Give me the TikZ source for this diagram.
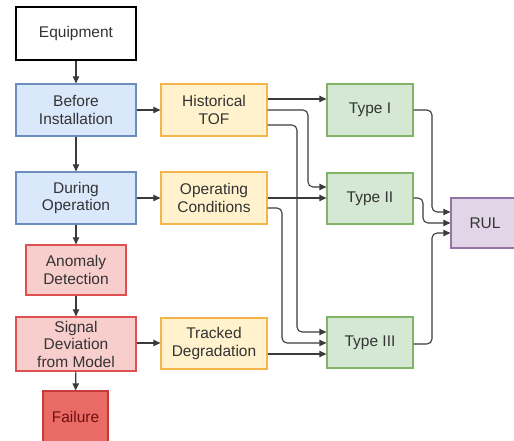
\documentclass[tikz,border=0pt]{standalone}
\usepackage{fontspec}
\setmainfont{Liberation Sans}
\usetikzlibrary{arrows.meta}
\definecolor{bfill}{HTML}{DAE8FC}\definecolor{bline}{HTML}{6C8EBF}
\definecolor{ofill}{HTML}{FFF2CC}\definecolor{oline}{HTML}{F5B54A}
\definecolor{gfill}{HTML}{D5E8D4}\definecolor{gline}{HTML}{82B366}
\definecolor{rfill}{HTML}{F8CECC}\definecolor{rline}{HTML}{E05050}
\definecolor{ffill}{HTML}{EA6B66}\definecolor{fline}{HTML}{C83A3A}
\definecolor{pfill}{HTML}{E1D5E7}\definecolor{pline}{HTML}{9673A6}
\definecolor{txt}{HTML}{333333}
\definecolor{wire}{HTML}{3A3A3A}
\tikzset{
  box/.style={draw, line width=1.3pt, inner sep=0pt, align=center, text=txt,
    font=\fontsize{15.5}{17.5}\selectfont},
  wbox/.style={box, draw=black, fill=white},
  bbox/.style={box, draw=bline, fill=bfill, minimum width=120, minimum height=52},
  obox/.style={box, draw=oline, fill=ofill, minimum width=106, minimum height=52},
  gbox/.style={box, draw=gline, fill=gfill, minimum width=86, minimum height=51},
  rbox/.style={box, draw=rline, fill=rfill},
  conn/.style={draw=wire, line width=1.1pt, rounded corners=5pt, -{Triangle[length=7pt,width=6.5pt]}},
}
\begin{document}
\begin{tikzpicture}[x=1pt,y=-1pt]
\useasboundingbox (0,0) rectangle (514,441);
\begin{scope}
\clip (0,0) rectangle (514,441);
\node[wbox, minimum width=120, minimum height=53] (eq) at (76,33.5) {Equipment};
\node[bbox] (bi) at (76,110) {Before\\Installation};
\node[bbox] (do) at (76,198) {During\\Operation};
\node[rbox, minimum width=100, minimum height=50] (ad) at (76,270) {Anomaly\\Detection};
\node[rbox, minimum width=120, minimum height=54] (sd) at (76,344) {Signal\\Deviation\\from Model};
\node[box, draw=fline, fill=ffill, text={rgb,255:red,110;green,15;blue,15}, minimum width=65, minimum height=52] (fa) at (75.5,417) {Failure};
\node[obox] (ht) at (214,110) {Historical\\TOF};
\node[obox] (oc) at (214,198) {Operating\\Conditions};
\node[obox, minimum height=51] (td) at (214,343.5) {Tracked\\Degradation};
\node[gbox, minimum height=52] (t1) at (370,110) {Type I};
\node[gbox] (t2) at (370,198.5) {Type II};
\node[gbox] (t3) at (370,342.5) {Type III};
\node[box, draw=pline, fill=pfill, minimum width=68, minimum height=50] (rul) at (485,223) {RUL};

\draw[conn] (eq) -- (bi);
\draw[conn] (bi) -- (do);
\draw[conn] (do) -- (ad);
\draw[conn] (ad) -- (sd);
\draw[conn] (sd) -- (fa);
\draw[conn] (bi) -- (ht);
\draw[conn] (do) -- (oc);
\draw[conn] (sd.east |- 0,343) -- (td.west |- 0,343);

\draw[conn] (ht.east |- 0,99) -- (t1.west |- 0,99);
\draw[conn] (ht.east |- 0,110) -- (308,110) -- (308,187) -- (t2.west |- 0,187);
\draw[conn] (ht.east |- 0,125) -- (297,125) -- (297,332) -- (t3.west |- 0,332);
\draw[conn] (oc.east |- 0,198) -- (t2.west |- 0,198);
\draw[conn] (oc.east |- 0,208) -- (282,208) -- (282,343) -- (t3.west |- 0,343);
\draw[conn] (td.east |- 0,354) -- (t3.west |- 0,354);

\draw[conn] (t1.east |- 0,110) -- (432,110) -- (432,212) -- (rul.west |- 0,212);
\draw[conn] (t2.east |- 0,198) -- (423,198) -- (423,223) -- (rul.west |- 0,223);
\draw[conn] (t3.east |- 0,344) -- (432,344) -- (432,233) -- (rul.west |- 0,233);
\end{scope}
\end{tikzpicture}
\end{document}
